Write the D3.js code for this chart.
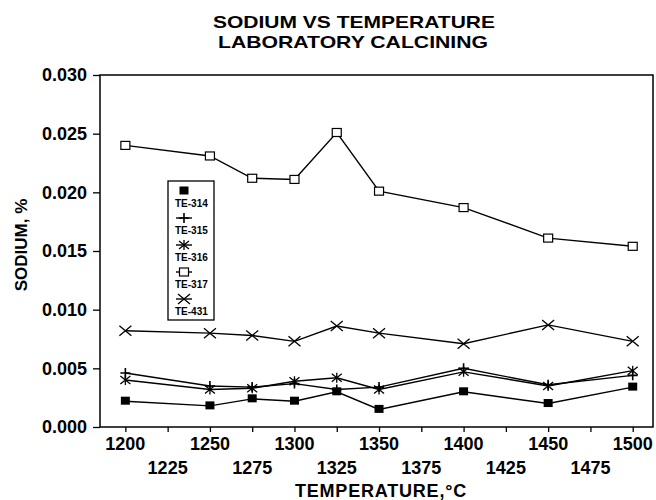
<!DOCTYPE html>
<html>
<head>
<meta charset="utf-8">
<script src="https://cdn.jsdelivr.net/npm/d3@7"></script>
<style>
  body { margin: 0; background: #fff; }
  svg { display: block; }
  text { font-family: "Liberation Sans", Arial, sans-serif; font-weight: bold; fill: #000; }
</style>
</head>
<body>
<svg id="chart" width="656" height="500"></svg>
<script>
// temperatures (deg C) sampled
var temps = [1200, 1250, 1275, 1300, 1325, 1350, 1400, 1450, 1500];

// sodium %, one array per sample
var te314 = [0.0022, 0.0018, 0.0024, 0.0022, 0.0030, 0.0015, 0.0030, 0.0020, 0.0034];
var te315 = [0.0046, 0.0035, 0.0034, 0.0037, 0.0032, 0.0034, 0.0050, 0.0036, 0.0044];
var te316 = [0.0040, 0.0032, 0.0033, 0.0039, 0.0042, 0.0032, 0.0047, 0.0035, 0.0048];
var te317 = [0.0240, 0.0231, 0.0212, 0.0211, 0.0251, 0.0201, 0.0187, 0.0161, 0.0154];
var te431 = [0.0082, 0.0080, 0.0078, 0.0073, 0.0086, 0.0080, 0.0071, 0.0087, 0.0073];

var seriesNames = ["TE-314", "TE-315", "TE-316", "TE-317", "TE-431"];
var seriesValues = [te314, te315, te316, te317, te431];
var markers = ["filled", "plus", "star", "open", "cross"];

var xTicks = [1200, 1225, 1250, 1275, 1300, 1325, 1350, 1375, 1400, 1425, 1450, 1475, 1500];
var yTicks = [0, 0.005, 0.010, 0.015, 0.020, 0.025, 0.030];

var svg = d3.select("#chart");

var plotL = 100, plotR = 653, plotT = 75, plotB = 427;

var x = d3.scaleLinear().domain([1185, 1512]).range([plotL, plotR]);
var y = d3.scaleLinear().domain([0, 0.03]).range([plotB, plotT]);

// title (glyphs stretched a bit, the original type is wide)
svg.append("text")
  .attr("x", 354).attr("y", 28)
  .attr("text-anchor", "middle")
  .attr("textLength", 282)
  .attr("lengthAdjust", "spacingAndGlyphs")
  .style("font-size", "17px")
  .text("SODIUM VS TEMPERATURE");
svg.append("text")
  .attr("x", 353).attr("y", 48)
  .attr("text-anchor", "middle")
  .attr("textLength", 270)
  .attr("lengthAdjust", "spacingAndGlyphs")
  .style("font-size", "17px")
  .text("LABORATORY CALCINING");

// frame
svg.append("rect")
  .attr("x", plotL).attr("y", plotT)
  .attr("width", plotR - plotL).attr("height", plotB - plotT)
  .attr("fill", "none")
  .attr("stroke", "#000")
  .attr("stroke-width", 1.5);

// y axis
var yAxis = svg.append("g")
  .attr("transform", "translate(" + plotL + ",0)")
  .call(d3.axisLeft(y).tickValues(yTicks).tickSize(7).tickPadding(6).tickFormat(d3.format(".3f")));
yAxis.select(".domain").remove();
yAxis.selectAll("line").attr("stroke-width", 1.3);
yAxis.selectAll("text")
  .style("font-size", "18px")
  .style("font-family", "'Liberation Sans', Arial, sans-serif")
  .style("font-weight", "bold");

// x axis, labels alternate between two rows
var xAxis = svg.append("g")
  .attr("transform", "translate(0," + plotB + ")")
  .call(d3.axisBottom(x).tickValues(xTicks).tickSize(5).tickFormat(""));
xAxis.select(".domain").remove();
xAxis.selectAll("line").attr("stroke-width", 1.3);

svg.append("g").selectAll("text")
  .data(xTicks)
  .enter()
  .append("text")
  .attr("x", function(d) { return x(d); })
  .attr("y", function(d, i) { return i % 2 === 0 ? 450 : 474; })
  .attr("text-anchor", "middle")
  .style("font-size", "18px")
  .text(function(d) { return d; });

// axis titles
svg.append("text")
  .attr("x", 381).attr("y", 497)
  .attr("text-anchor", "middle")
  .style("font-size", "18px")
  .style("letter-spacing", "0.8px")
  .text("TEMPERATURE,\u00b0C");

svg.append("text")
  .attr("transform", "translate(27,245) rotate(-90)")
  .attr("text-anchor", "middle")
  .style("font-size", "17px")
  .text("SODIUM, %");

function drawMarker(g, type) {
  if (type === "filled") {
    g.append("rect").attr("x", -4.5).attr("y", -4.5).attr("width", 9).attr("height", 8)
      .attr("fill", "#000");
  } else if (type === "open") {
    g.append("rect").attr("x", -4.5).attr("y", -4).attr("width", 9).attr("height", 8)
      .attr("fill", "#fff").attr("stroke", "#000").attr("stroke-width", 1.2);
  } else if (type === "plus") {
    g.append("path").attr("d", "M-5,0H5M0,-5V5")
      .attr("stroke", "#000").attr("stroke-width", 1.6);
  } else if (type === "star") {
    g.append("path").attr("d", "M-5,-4L5,4M-5,4L5,-4M0,-5V5")
      .attr("stroke", "#000").attr("stroke-width", 1.3);
  } else if (type === "cross") {
    g.append("path").attr("d", "M-6,-5L6,5M-6,5L6,-5")
      .attr("stroke", "#000").attr("stroke-width", 1.3);
  }
}

var line = d3.line()
  .x(function(d) { return x(d[0]); })
  .y(function(d) { return y(d[1]); });

seriesValues.forEach(function(vals, si) {
  var pts = temps.map(function(t, i) { return [t, vals[i]]; });
  svg.append("path")
    .datum(pts)
    .attr("d", line)
    .attr("fill", "none")
    .attr("stroke", "#000")
    .attr("stroke-width", 1.4);

  svg.append("g").selectAll("g")
    .data(pts)
    .enter()
    .append("g")
    .attr("transform", function(d) { return "translate(" + x(d[0]) + "," + y(d[1]) + ")"; })
    .each(function() { drawMarker(d3.select(this), markers[si]); });
});

// legend
var legend = svg.append("g").attr("transform", "translate(168,181)");
legend.append("rect")
  .attr("width", 46).attr("height", 139)
  .attr("fill", "#fff")
  .attr("stroke", "#000")
  .attr("stroke-width", 1.3);

seriesNames.forEach(function(name, i) {
  var row = legend.append("g").attr("transform", "translate(0," + (i * 27) + ")");
  if (markers[i] !== "filled") {
    row.append("line")
      .attr("x1", 8).attr("x2", 24)
      .attr("y1", 10).attr("y2", 10)
      .attr("stroke", "#000").attr("stroke-width", 1.4);
  }
  drawMarker(row.append("g").attr("transform", "translate(16,10)"), markers[i]);
  row.append("text")
    .attr("x", 7).attr("y", 26)
    .style("font-size", "10px")
    .text(name);
});
</script>
</body>
</html>
